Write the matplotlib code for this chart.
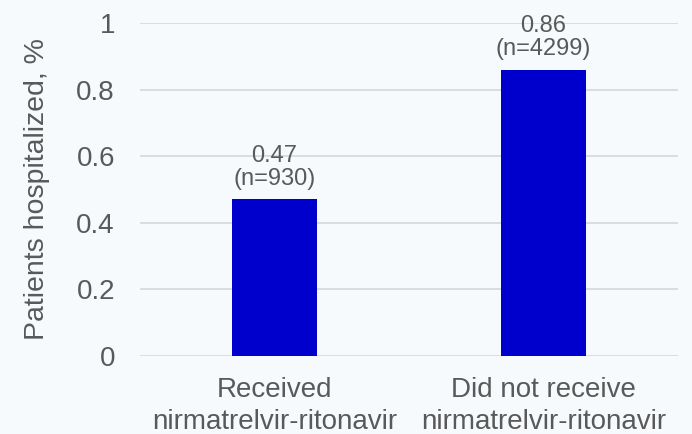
import matplotlib.pyplot as plt

groups = ["Received\nnirmatrelvir-ritonavir", "Did not receive\nnirmatrelvir-ritonavir"]
rates = [0.47, 0.86]
counts = [930, 4299]
yticks = [0, 0.2, 0.4, 0.6, 0.8, 1]

plt.rcParams["font.family"] = ["Liberation Sans", "DejaVu Sans"]
txt = "#595959"
bg = "#F6FAFD"

fig = plt.figure(figsize=(6.92, 4.34), dpi=100, facecolor=bg)
ax = fig.add_axes([0.2023, 0.1797, 0.7775, 0.7673], facecolor=bg)

x = range(len(groups))
ax.bar(x, rates, width=0.316, color="#0000CC", zorder=3)
for i, (r, n) in enumerate(zip(rates, counts)):
    ax.annotate("%.2f\n(n=%d)" % (r, n), (i, r), xytext=(0, 7), textcoords="offset points",
                ha="center", va="bottom", fontsize=17, color=txt, linespacing=1.05)

ax.set_xlim(-0.5, 1.5)
ax.set_ylim(0, 1)
ax.set_yticks(yticks)
ax.set_yticklabels(["%g" % t for t in yticks])
ax.set_xticks(list(x))
ax.set_xticklabels(groups, linespacing=1.3)
ax.grid(axis="y", color="#D9D9D9", linewidth=1.3, zorder=0)
for s in ax.spines.values():
    s.set_visible(False)
ax.tick_params(axis="both", length=0, labelsize=20, colors=txt)
ax.tick_params(axis="y", pad=18)
ax.tick_params(axis="x", pad=15)
ax.set_ylabel("Patients hospitalized, %", fontsize=20.5, color=txt, labelpad=19)

fig.savefig("out.png", dpi=100, facecolor=bg)
